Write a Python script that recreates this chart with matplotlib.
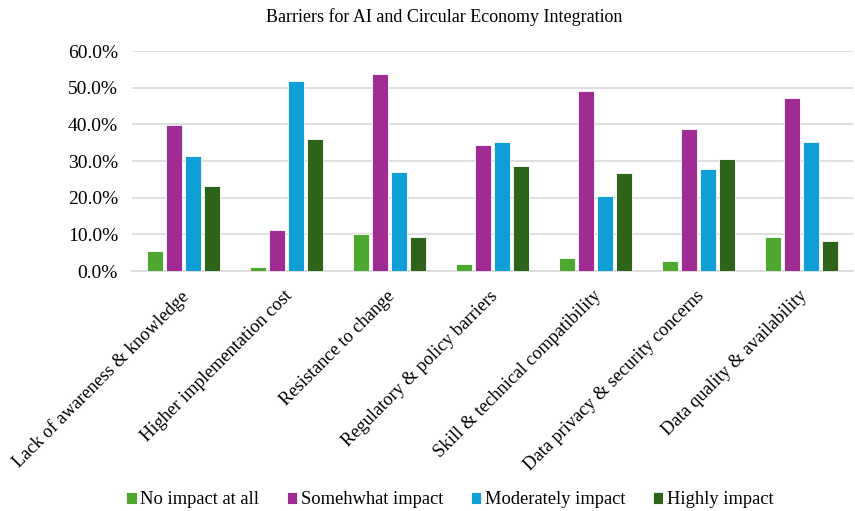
import numpy as np
import matplotlib.pyplot as plt

plt.rcParams['font.family'] = ['Liberation Serif', 'DejaVu Serif']

categories = ["Lack of awareness & knowledge", "Higher implementation cost",
              "Resistance to change", "Regulatory & policy barriers",
              "Skill & technical compatibility", "Data privacy & security concerns",
              "Data quality & availability"]
series_names = ["No impact at all", "Somehwhat impact", "Moderately impact", "Highly impact"]
no_impact = [5.5, 1.0, 10.1, 1.9, 3.6, 2.8, 9.2]
somewhat = [39.8, 11.1, 53.6, 34.3, 49.1, 38.7, 47.1]
moderately = [31.5, 51.9, 26.9, 35.1, 20.4, 27.7, 35.1]
highly = [23.1, 36.0, 9.3, 28.6, 26.8, 30.5, 8.3]
colors = ["#4EA72E", "#A02B93", "#0F9ED5", "#2E6419"]

fig = plt.figure(figsize=(8.55, 5.11), dpi=100)
ax = fig.add_axes([132 / 855, 1 - 271 / 511, 721 / 855, 220 / 511])

x = np.arange(len(categories))
width = 0.15
step = 0.185
for i, (vals, name, c) in enumerate(zip([no_impact, somewhat, moderately, highly],
                                        series_names, colors)):
    ax.bar(x + (i - 1.5) * step, np.array(vals) / 100, width, color=c,
           edgecolor='white', linewidth=0.6, label=name, zorder=3)

ax.set_xlim(-0.5, len(categories) - 0.5)
ax.set_ylim(0, 0.6)
ax.set_yticks(np.arange(0, 0.61, 0.1))
ax.set_yticklabels([f"{v * 100:.1f}%" for v in np.arange(0, 0.61, 0.1)], fontsize=14)
ax.grid(axis='y', color='#d9d9d9', linewidth=1.2, zorder=0)
for s in ['top', 'right', 'left']:
    ax.spines[s].set_visible(False)
ax.spines['bottom'].set_color('#d9d9d9')
ax.spines['bottom'].set_linewidth(1.2)
ax.tick_params(axis='y', length=0, pad=10)
ax.tick_params(axis='x', length=0, pad=12)
ax.set_xticks(x - 0.03)
ax.set_xticklabels(categories, rotation=45, ha='right', rotation_mode='anchor', fontsize=13.2)

fig.text(444 / 855, 1 - 17 / 511, "Barriers for AI and Circular Economy Integration",
         ha='center', va='center', fontsize=13)

fig.legend(loc='center', bbox_to_anchor=(450 / 855, 1 - 500 / 511), ncol=4, frameon=False,
           fontsize=13.3, handlelength=0.55, handleheight=0.55, handletextpad=0.2,
           columnspacing=1.5)

fig.savefig("out.png", dpi=100)
